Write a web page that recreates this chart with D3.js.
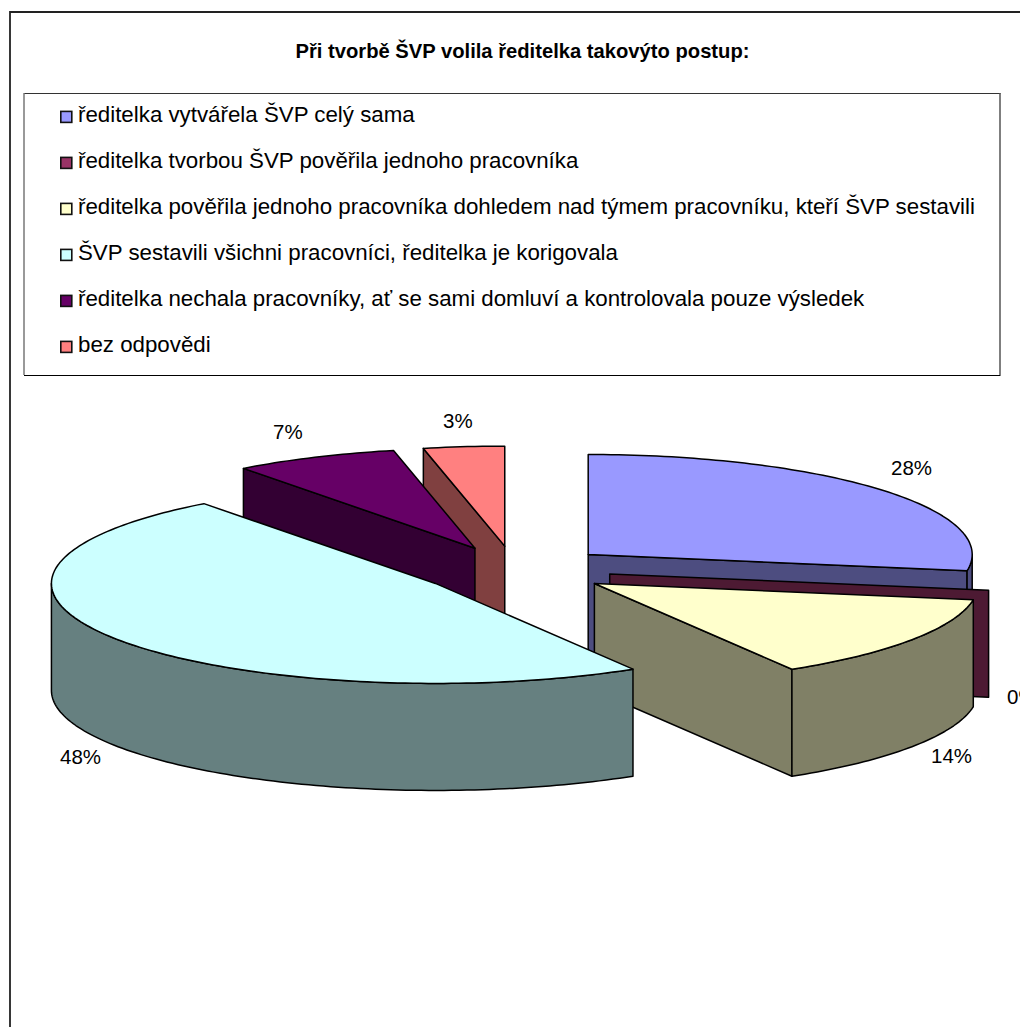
<!DOCTYPE html>
<html>
<head>
<meta charset="utf-8">
<script src="https://cdn.jsdelivr.net/npm/d3@7"></script>
<style>
html,body{margin:0;padding:0;background:#fff;overflow:hidden}
svg{display:block}
text{font-family:"Liberation Sans",Arial,sans-serif;fill:#000}
</style>
</head>
<body>
<svg id="chart" width="1020" height="1027"></svg>
<script>
// Share of answers in percent, in pie order (clockwise from twelve o'clock)
const categories = [
  "ředitelka vytvářela ŠVP celý sama",
  "ředitelka tvorbou ŠVP pověřila jednoho pracovníka",
  "ředitelka pověřila jednoho pracovníka dohledem nad týmem pracovníku, kteří ŠVP sestavili",
  "ŠVP sestavili všichni pracovníci, ředitelka je korigovala",
  "ředitelka nechala pracovníky, ať se sami domluví a kontrolovala pouze výsledek",
  "bez odpovědi"
];
const shares = [27.6, 0, 13.8, 48.3, 6.9, 3.4];
const topColors = ["#9999ff", "#993366", "#ffffcc", "#ccffff", "#660066", "#ff8080"];
const titleText = "Při tvorbě ŠVP volila ředitelka takovýto postup:";

const svg = d3.select("#chart");

// Chart frame runs off the right and bottom of the page
svg.append("path")
  .attr("d", "M10,1027V12H1020")
  .attr("fill", "none").attr("stroke", "#222").attr("stroke-width", 1.8);

svg.append("text")
  .attr("x", 522.5).attr("y", 58)
  .attr("text-anchor", "middle")
  .attr("font-size", 20.2).attr("font-weight", "bold")
  .text(titleText);

// Legend box: darker top and bottom rules, softer sides
const box = svg.append("g").attr("fill", "none");
box.append("path").attr("d", "M24,93.5H1000.5").attr("stroke", "#333");
box.append("path").attr("d", "M24,375.5H1000.5").attr("stroke", "#000");
box.append("path").attr("d", "M24,93V375").attr("stroke", "#777").attr("stroke-width", 1.5);
box.append("path").attr("d", "M1000,93V375").attr("stroke", "#555").attr("stroke-width", 1.5);

const legendRow = d3.scaleBand().domain(d3.range(categories.length)).range([93.6, 369.6]);
const rows = svg.append("g").selectAll("g").data(categories).join("g")
  .attr("transform", (d, i) => `translate(0,${legendRow(i) + legendRow.bandwidth() / 2})`);
rows.append("rect")
  .attr("x", 60.8).attr("y", -5.2).attr("width", 11).attr("height", 11)
  .attr("fill", (d, i) => topColors[i]).attr("stroke", "#111").attr("stroke-width", 1.6);
rows.append("text")
  .attr("x", 78).attr("y", 5.8)
  .attr("font-size", 22.3)
  .text(d => d);

// Tilted pie: every slice is moved out along its middle angle and extruded downward
const centre = {x: 515, y: 570};
const rx = 384, ry = 100, depth = 107;
const explodeX = 0.25, explodeY = 0.24;
const scaleX = d3.scaleLinear().domain([-1, 1]).range([-rx, rx]);
const scaleY = d3.scaleLinear().domain([-1, 1]).range([ry, -ry]);

const pie = d3.pie().sort(null).value(d => d)(shares);

function rim(angle, apex, drop = 0) {
  return [apex.x + scaleX(Math.sin(angle)), apex.y + scaleY(Math.cos(angle)) + drop];
}
function arcPoints(a0, a1, apex, drop = 0) {
  const n = Math.max(1, Math.ceil(Math.abs(a1 - a0) / 0.02));
  return d3.range(n + 1).map(i => rim(a0 + (a1 - a0) * i / n, apex, drop));
}
const line = d3.line();

// Slices drawn back to front
const paintOrder = [0, 1, 2, 5, 4, 3];
const pieG = svg.append("g")
  .attr("stroke", "#000").attr("stroke-width", 1.5).attr("stroke-linejoin", "round");

paintOrder.forEach(i => {
  const s = pie[i];
  const mid = (s.startAngle + s.endAngle) / 2;
  const apex = {
    x: centre.x + explodeX * scaleX(Math.sin(mid)),
    y: centre.y + explodeY * scaleY(Math.cos(mid))
  };
  const top = d3.color(topColors[i]);
  const side = d3.rgb(top.r / 2, top.g / 2, top.b / 2).formatHex();
  const g = pieG.append("g");

  const wall = a => {
    const p = rim(a, apex);
    g.append("path").attr("fill", side).attr("d", line([
      [apex.x, apex.y], p, [p[0], p[1] + depth], [apex.x, apex.y + depth]
    ]) + "Z");
  };
  if (Math.sin(s.startAngle) < -1e-6) wall(s.startAngle);
  if (Math.sin(s.endAngle) > 1e-6) wall(s.endAngle);

  // Outer wall only where the rim faces the viewer
  const a0 = Math.max(s.startAngle, Math.PI / 2);
  const a1 = Math.min(s.endAngle, Math.PI * 1.5);
  if (a1 > a0) {
    const upper = arcPoints(a0, a1, apex);
    const lower = arcPoints(a1, a0, apex, depth);
    g.append("path").attr("fill", side).attr("d", line(upper.concat(lower)) + "Z");
  }

  if (s.endAngle > s.startAngle) {
    g.append("path").attr("fill", topColors[i])
      .attr("d", line([[apex.x, apex.y]].concat(arcPoints(s.startAngle, s.endAngle, apex))) + "Z");
  }
});

// Percent labels, rounded from the same shares the slices use
const labelX = [891, 1007, 931, 60, 273, 443];
const labelY = [475, 704, 763, 764, 439, 428];
svg.append("g").selectAll("text").data(pie).join("text")
  .attr("font-size", 20.5)
  .attr("x", (d, i) => labelX[i])
  .attr("y", (d, i) => labelY[i])
  .text(d => Math.round(d.data) + "%");
</script>
</body>
</html>
